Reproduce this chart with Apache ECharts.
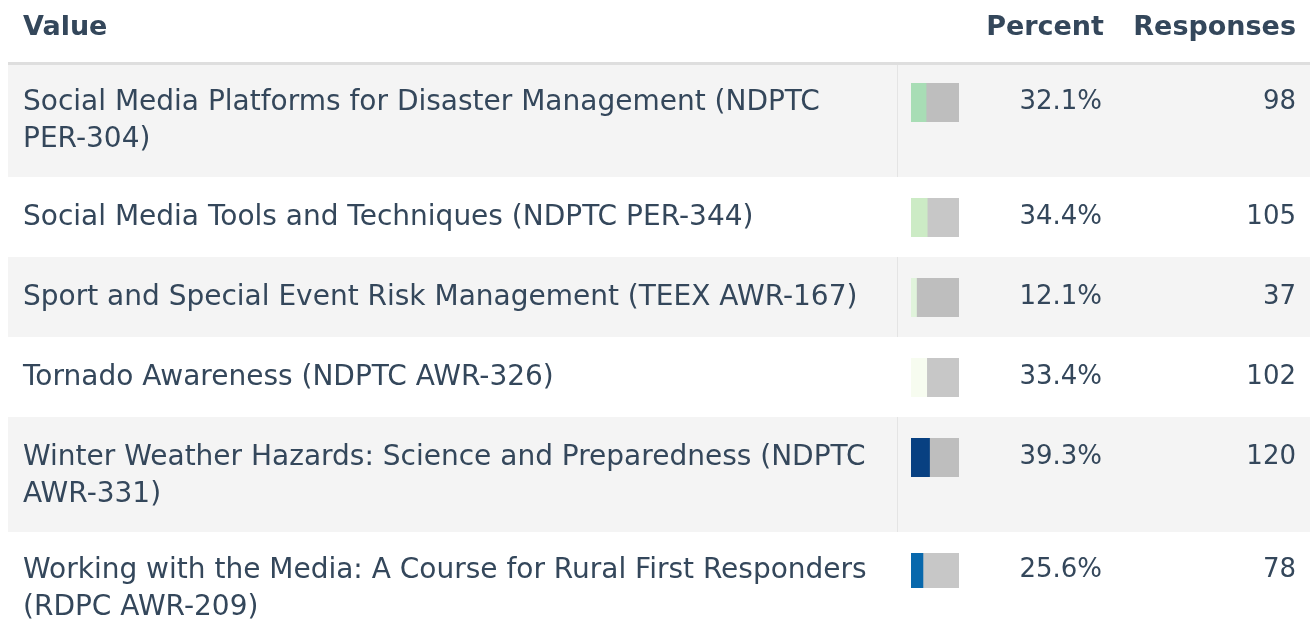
<!DOCTYPE html>
<html>
<head>
<meta charset="utf-8">
<script src="https://cdn.jsdelivr.net/npm/echarts@6/dist/echarts.min.js"></script>
<style>
  html, body { margin: 0; padding: 0; background: #fff; }
  #chart { width: 1310px; height: 626px; }
</style>
</head>
<body>
<div id="chart"></div>
<script>
// data
const categories = [
    'Social Media Platforms for Disaster Management (NDPTC PER-304)',
    'Social Media Tools and Techniques (NDPTC PER-344)',
    'Sport and Special Event Risk Management (TEEX AWR-167)',
    'Tornado Awareness (NDPTC AWR-326)',
    'Winter Weather Hazards: Science and Preparedness (NDPTC AWR-331)',
    'Working with the Media: A Course for Rural First Responders (RDPC AWR-209)'
];
const percents = [32.1, 34.4, 12.1, 33.4, 39.3, 25.6];
const responses = [98, 105, 37, 102, 120, 78];
const headers = ['Value', 'Percent', 'Responses'];

// 样式 / 布局
const fillColors = ['#a8ddb5', '#ccebc5', '#e0f3db', '#f7fcf0', '#084081', '#0868ac'];
const rowTops = [62, 177, 257, 337, 417, 532];
const rowHeights = [115, 80, 80, 80, 115, 115];
const textColor = '#34475b';
const fontFamily = '"DejaVu Sans", sans-serif';
const bodySize = 28;
const numberSize = 26;

const chart = echarts.init(document.getElementById('chart'));

const grids = [];
const xAxes = [];
const yAxes = [];
const series = [];
const graphics = [];

categories.forEach((name, i) => {
    // 行背景
    if (i % 2 === 0) {
        graphics.push({
            type: 'rect', z: -10,
            shape: { x: 8, y: rowTops[i], width: 1302, height: rowHeights[i] },
            style: { fill: '#f4f4f4' }
        });
        graphics.push({
            type: 'rect', z: -9,
            shape: { x: 897, y: rowTops[i], width: 1, height: rowHeights[i] },
            style: { fill: '#e4e4e4' }
        });
    }

    grids.push({ left: 911, width: 48, top: rowTops[i] + 21, height: 39 });
    xAxes.push({ gridIndex: i, type: 'value', min: 0, max: 100, show: false });

    const base = {
        gridIndex: i,
        type: 'category',
        axisLine: { show: false },
        axisTick: { show: false },
        splitLine: { show: false }
    };
    const numStyle = { color: textColor, fontFamily: fontFamily, fontSize: numberSize };

    yAxes.push(Object.assign({}, base, {
        position: 'left',
        data: [name],
        axisLabel: {
            color: textColor,
            fontFamily: fontFamily,
            fontSize: bodySize,
            margin: 888,
            align: 'left',
            verticalAlign: 'top',
            lineHeight: 37,
            padding: [-18.5, 0, 0, 0],
            width: 880,
            overflow: 'break'
        }
    }));
    yAxes.push(Object.assign({}, base, {
        position: 'right',
        data: [percents[i].toFixed(1) + '%'],
        axisLabel: Object.assign({}, numStyle, { margin: 143, align: 'right' })
    }));
    yAxes.push(Object.assign({}, base, {
        position: 'right',
        data: [String(responses[i])],
        axisLabel: Object.assign({}, numStyle, { margin: 337, align: 'right' })
    }));

    series.push({
        type: 'bar',
        xAxisIndex: i,
        yAxisIndex: i * 3,
        data: [percents[i]],
        barWidth: '100%',
        silent: true,
        itemStyle: { color: fillColors[i] },
        showBackground: true,
        backgroundStyle: { color: 'rgba(0,0,0,0.22)' }
    });
});

// 表头
graphics.push({
    type: 'rect', z: -5,
    shape: { x: 8, y: 62, width: 1302, height: 3 },
    style: { fill: '#dedede' }
});
const headerFont = { fill: textColor, fontFamily: fontFamily, fontSize: 27, fontWeight: 'bold', verticalAlign: 'middle' };
graphics.push({ type: 'text', x: 23, y: 28, style: Object.assign({ text: headers[0], align: 'left' }, headerFont) });
graphics.push({ type: 'text', x: 1104, y: 28, style: Object.assign({ text: headers[1], align: 'right' }, headerFont) });
graphics.push({ type: 'text', x: 1296, y: 28, style: Object.assign({ text: headers[2], align: 'right' }, headerFont) });

chart.setOption({
    animation: false,
    grid: grids,
    xAxis: xAxes,
    yAxis: yAxes,
    series: series,
    graphic: graphics
});
</script>
</body>
</html>
